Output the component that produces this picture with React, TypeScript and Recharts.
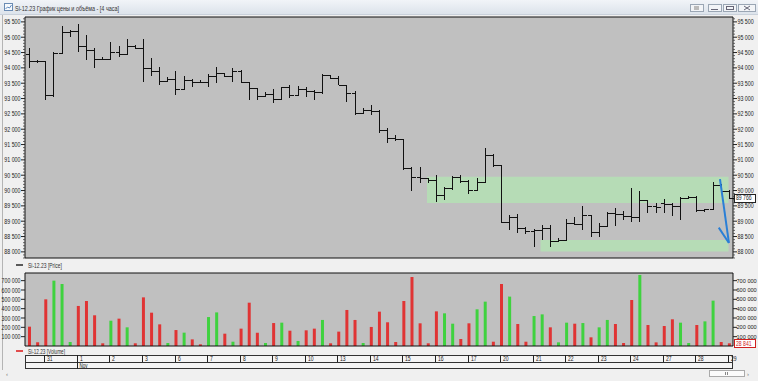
import React from 'react';
import { ComposedChart, Bar, Cell, XAxis, YAxis, CartesianGrid, ReferenceArea, ReferenceLine } from 'recharts';

const FONT = '"Liberation Sans", Arial, sans-serif';

// trading days shown (Oct 30 .. Nov 29), 4-hour bars
const days = ['30', '31', '1', '2', '3', '6', '7', '8', '9', '10', '13', '14', '15', '16', '17', '20', '21', '22', '23', '24', '27', '28', '29'];
const barsPerDay = [2, 4, 4, 4, 4, 4, 4, 4, 4, 4, 4, 4, 4, 4, 4, 4, 4, 4, 4, 4, 4, 4, 1];
const monthStarts: Record<string, string> = { '1': 'Nov' };

const open = [
  94450, 94230, 94210, 93100, 94480, 95180, 95200, 94700, 94590, 94290,
  94280, 94530, 94460, 94700, 94660, 93990, 93910, 93560, 93630, 93300,
  93600, 93550, 93530, 93740, 93830, 93740, 93910, 93550, 93340, 93090,
  93150, 92980, 93370, 93120, 93300, 93230, 93200, 93770, 93660, 93450,
  93170, 92520, 92610, 92600, 91970, 91700, 91680, 90730, 90450, 90400,
  90340, 89850, 90070, 90450, 90300, 90020, 90270, 91160, 90820, 88970,
  89150, 88770, 88690, 88720, 88770, 88360, 88400, 88940, 88920, 89210,
  88660, 88830, 89260, 89230, 89180, 89130, 89680, 89480, 89600, 89560,
  89500, 89770, 89790, 89370, 89390, 90180, 90000,
];
const high = [
  94640, 94260, 94220, 94530, 95370, 95220, 95430, 95070, 94640, 94350,
  94860, 94700, 94940, 94750, 94940, 94310, 94040, 93700, 93900, 93720,
  93630, 93610, 93800, 94040, 93830, 93990, 93940, 93550, 93340, 93220,
  93300, 93390, 93450, 93420, 93370, 93280, 93800, 93770, 93720, 93450,
  93230, 92690, 92790, 92630, 92030, 91820, 91680, 90760, 90780, 90420,
  90510, 90130, 90480, 90510, 90350, 90400, 91380, 91200, 90830, 89210,
  89230, 88800, 88760, 88880, 88880, 88450, 89080, 89150, 89480, 89210,
  88940, 89300, 89430, 89320, 90080, 89970, 89700, 89590, 89720, 89600,
  89790, 89830, 89810, 89400, 90290, 90200, 90010,
];
const low = [
  93990, 94150, 92950, 93060, 94480, 95020, 94530, 94260, 93990, 94260,
  94270, 94370, 94420, 94610, 93550, 93740, 93450, 93550, 93120, 93300,
  93390, 93500, 93370, 93520, 93700, 93550, 93520, 92960, 92960, 93060,
  92850, 92960, 93010, 93120, 93060, 92960, 93150, 93630, 93440, 92900,
  92470, 92520, 92450, 91870, 91550, 91600, 90670, 89970, 90240, 90240,
  89620, 89700, 90030, 90240, 89890, 89970, 90240, 90780, 88930, 88720,
  88610, 88590, 88170, 88390, 88170, 88310, 88390, 88880, 88720, 88500,
  88500, 88830, 88830, 89050, 88990, 88990, 89280, 89280, 89260, 89160,
  89040, 89720, 89300, 89300, 89350, 89920, 89740,
];
const close = [
  94230, 94210, 93100, 94480, 95180, 95200, 94700, 94590, 94290, 94280,
  94530, 94460, 94700, 94660, 93990, 93910, 93560, 93630, 93300, 93600,
  93550, 93530, 93740, 93830, 93740, 93910, 93550, 93340, 93090, 93150,
  92980, 93370, 93120, 93300, 93230, 93200, 93770, 93660, 93450, 93170,
  92520, 92610, 92600, 91970, 91700, 91680, 90730, 90450, 90400, 90340,
  89850, 90070, 90450, 90300, 90020, 90270, 91160, 90820, 88970, 89150,
  88770, 88690, 88720, 88770, 88360, 88400, 88940, 88920, 89210, 88660,
  88830, 89260, 89230, 89180, 89130, 89680, 89480, 89450, 89560, 89500,
  89770, 89790, 89370, 89390, 90180, 90000, 89766,
];
const volume = [
  207000, 40000, 500000, 700000, 664000, 43000, 429000, 482000, 329000, 29000,
  271000, 293000, 200000, 29000, 521000, 357000, 232000, 32000, 171000, 143000,
  71000, 18000, 310000, 360000, 132000, 46000, 186000, 464000, 143000, 32000,
  246000, 250000, 164000, 54000, 168000, 186000, 279000, 29000, 154000, 386000,
  279000, 32000, 204000, 368000, 254000, 43000, 482000, 739000, 243000, 29000,
  371000, 350000, 239000, 75000, 243000, 393000, 475000, 46000, 664000, 529000,
  236000, 46000, 321000, 339000, 200000, 39000, 250000, 239000, 246000, 93000,
  200000, 279000, 236000, 32000, 493000, 761000, 225000, 39000, 214000, 286000,
  250000, 32000, 225000, 264000, 486000, 43000, 28841,
];

const priceMajor = [88000, 88500, 89000, 89500, 90000, 90500, 91000, 91500, 92000, 92500, 93000, 93500, 94000, 94500, 95000, 95500];
const volumeMajor = [100000, 200000, 300000, 400000, 500000, 600000, 700000];

// hand-drawn marks on the original screenshot (bar index / price)
const zones = [
  { from: 48.9, to: 85.95, lo: 89590, hi: 90450 },
  { from: 62.85, to: 85.95, lo: 88010, hi: 88390 },
];
const arrowFrom = { x: 84.9, y: 90370 };
const arrowTo = { x: 86.0, y: 88290 };
const arrowWing = { x: 84.75, y: 88790 };

const barKeys: string[] = [];
days.forEach((d, di) => {
  for (let k = 0; k < barsPerDay[di]; k++) barKeys.push(`${d}|${k}`);
});
const data = barKeys.map((key, i) => ({
  key,
  idx: i,
  open: open[i],
  high: high[i],
  low: low[i],
  close: close[i],
  vol: volume[i],
}));
const dayTicks = days.slice(1).map((d) => `${d}|0`);
const lastClose = close[close.length - 1];
const lastVol = volume[volume.length - 1];

const priceMinor: number[] = [];
for (let p = 87800; p <= 95600; p += 100) priceMinor.push(p);

const fmt = (v: number) => String(Math.round(v)).replace(/\B(?=(\d{3})+(?!\d))/g, ' ');

type TickOpts = { charW?: number; fontSize?: number; gap?: number };

function makeAxisTick(
  side: 'left' | 'right',
  majors: number[],
  opts: TickOpts,
  last?: { value: number; color: string; text: string },
) {
  const { charW, fontSize = 7, gap = 4.5 } = opts;
  return function AxisTick(props: any) {
    const { x, y, payload } = props;
    const v = payload.value;
    const d = side === 'left' ? -1 : 1;
    if (last && v === last.value) {
      const label = fmt(v);
      return (
        <g>
          <rect x={x + 1.5} y={Math.round(y) - 3.5} width={21} height={8} fill="#fff" stroke={last.color} />
          <text x={x + 3} y={y} dy={2.5} fontSize={7} fontFamily={FONT} fill={last.text}
            textLength={label.length * 2.6} lengthAdjust="spacingAndGlyphs">{label}</text>
        </g>
      );
    }
    if (!majors.includes(v)) {
      return <line x1={x} x2={x + d * 2} y1={y} y2={y} stroke="#444" strokeWidth={0.8} />;
    }
    const label = fmt(v);
    const fit = charW ? { textLength: label.length * charW, lengthAdjust: 'spacingAndGlyphs' } : {};
    return (
      <g>
        <line x1={x} x2={x + d * 4} y1={y} y2={y} stroke="#222" />
        <text x={x + d * gap} y={y} dy={fontSize * 0.36} textAnchor={side === 'left' ? 'end' : 'start'} fontSize={fontSize}
          fontFamily={FONT} fill="#222" {...fit}>{label}</text>
      </g>
    );
  };
}

function OhlcShape(props: any) {
  const { x, y, width, height, payload } = props;
  if (!payload) return null;
  const cx = Math.round(x + width / 2) + 0.5;
  const top = Math.min(y, y + height);
  const h = Math.abs(height);
  const span = payload.high - payload.low || 1;
  const toY = (v: number) => top + ((payload.high - v) / span) * h;
  const yo = Math.round(toY(payload.open)) + 0.5;
  const yc = Math.round(toY(payload.close)) + 0.5;
  return (
    <g stroke="#111" strokeWidth={1} shapeRendering="crispEdges">
      <line x1={cx} x2={cx} y1={top} y2={top + h} />
      <line x1={cx - 4} x2={cx} y1={yo} y2={yo} strokeWidth={1.4} />
      <line x1={cx} x2={cx + 4} y1={yc} y2={yc} strokeWidth={1.4} />
    </g>
  );
}

function DayTick(props: any) {
  const { x, y, payload } = props;
  const day = String(payload.value).split('|')[0];
  const sx = Math.round(x - 1) + 0.5;
  const month = monthStarts[day];
  return (
    <g>
      <line x1={sx} x2={sx} y1={y + 9} y2={month ? y + 23 : y + 16} stroke="#222" />
      <text x={sx + 2.5} y={y + 15} fontSize={6.5} fontFamily={FONT} fill="#222"
        textLength={day.length * 2.8} lengthAdjust="spacingAndGlyphs">{day}</text>
      {month && (
        <text x={sx + 2} y={y + 22} fontSize={6.5} fontFamily={FONT} fill="#222"
          textLength={8} lengthAdjust="spacingAndGlyphs">{month}</text>
      )}
    </g>
  );
}

const PriceLeftTick = makeAxisTick('left', priceMajor, { charW: 2.7 });
const PriceRightTick = makeAxisTick('right', priceMajor, { charW: 2.7 }, { value: lastClose, color: '#222', text: '#222' });
const VolLeftTick = makeAxisTick('left', volumeMajor, { charW: 2.7 });
const VolRightTick = makeAxisTick('right', volumeMajor, { fontSize: 5.6, gap: 3.5 }, { value: lastVol, color: '#d02020', text: '#d02020' });

const PLOT_BG = '#c0c0c0';
const GREEN_ZONE = '#b6dcb6';
const UP = '#3fd23f';
const DOWN = '#e03434';

export default function App() {
  return (
    <div style={{ position: 'absolute', left: 0, top: 0, width: 758, height: 381, background: '#f0f0f0', overflow: 'hidden' }}>
      <svg width={758} height={381} style={{ position: 'absolute', left: 0, top: 0 }}>
        <defs>
          <linearGradient id="tb" x1="0" y1="0" x2="0" y2="1">
            <stop offset="0" stopColor="#f1f4f8" />
            <stop offset="1" stopColor="#dce3eb" />
          </linearGradient>
        </defs>
        <rect x={0} y={0} width={758} height={14} fill="url(#tb)" />
        <line x1={0} x2={758} y1={14.5} y2={14.5} stroke="#c9d1db" />
        <rect x={4.5} y={3.5} width={8} height={7} fill="#f6f9fc" stroke="#6a8bb3" />
        <polyline points="5.5,9 7.5,7 9.5,8 11.5,5" fill="none" stroke="#3a6fb0" strokeWidth={0.8} />
        <text x={15} y={10.5} fontSize={7.5} fontFamily={FONT} fill="#333" textLength={104} lengthAdjust="spacingAndGlyphs">
          Si-12.23 График цены и объёма - [4 часа]
        </text>
        {[690, 708, 723, 738].map((bx, i) => (
          <rect key={bx} x={bx + 0.5} y={4.5} width={i === 3 ? 17 : 13} height={7} fill="#f2f4f7" stroke="#9aa6b4" />
        ))}
        <line x1={711} x2={718} y1={9.5} y2={9.5} stroke="#667" />
        <rect x={726.5} y={6.5} width={7} height={3} fill="none" stroke="#667" />
        <path d="M744,6 L750,10 M750,6 L744,10" stroke="#667" />
        <path d="M694,6 h5 v4 h-5 z" fill="#bbb" />
        <line x1={2.5} x2={2.5} y1={15} y2={370} stroke="#b4b4b4" />

        <line x1={16} x2={23} y1={265} y2={265} stroke="#333" strokeWidth={1.6} />
        <text x={28} y={267.5} fontSize={7} fontFamily={FONT} fill="#333" textLength={34} lengthAdjust="spacingAndGlyphs">Si-12.23 [Price]</text>
        <line x1={16} x2={23} y1={351} y2={351} stroke="#dd2222" strokeWidth={1.6} />
        <text x={28} y={353.5} fontSize={7} fontFamily={FONT} fill="#333" textLength={37} lengthAdjust="spacingAndGlyphs">Si-12.23 [Volume]</text>

        <rect x={25.5} y={355.5} width={707} height={13} fill="#f5f5f5" stroke="#333" />
        <line x1={25} x2={733} y1={362.5} y2={362.5} stroke="#333" />

        <text x={6} y={376} fontSize={6} fontFamily={FONT} fill="#777">‹</text>
        <rect x={709.5} y={370.5} width={35} height={6} fill="#fbfbfb" stroke="#aaa" />
        <path d="M725.5,372 v3 M727.5,372 v3" stroke="#888" />
        <text x={747} y={376} fontSize={6} fontFamily={FONT} fill="#777">›</text>
      </svg>

      <div style={{ position: 'absolute', left: 0, top: 0 }}>
        <ComposedChart width={758} height={259} data={data} margin={{ top: 16, right: 0, bottom: 0, left: 0 }} barCategoryGap={0}>
          <CartesianGrid xAxisId="cat" yAxisId="left" fill={PLOT_BG} stroke="none" horizontal={false} vertical={false} />
          <XAxis xAxisId="cat" dataKey="key" type="category" height={1} tick={false} tickLine={false} axisLine={{ stroke: '#111' }} />
          <XAxis xAxisId="num" dataKey="idx" type="number" orientation="top" domain={[-0.5, 86.5]} allowDataOverflow
            height={1} tick={false} tickLine={false} axisLine={{ stroke: '#111' }} />
          <YAxis yAxisId="left" orientation="left" width={25} domain={[87800, 95659]} allowDataOverflow
            ticks={priceMinor} interval={0} tickSize={0} tickMargin={0} tickLine={false} axisLine={{ stroke: '#111' }} tick={<PriceLeftTick />} />
          <YAxis yAxisId="right" orientation="right" width={25} domain={[87800, 95659]} allowDataOverflow
            ticks={[...priceMinor, lastClose]} interval={0} tickSize={0} tickMargin={0} tickLine={false} axisLine={{ stroke: '#111' }} tick={<PriceRightTick />} />
          {zones.map((z, i) => (
            <ReferenceArea key={i} xAxisId="num" yAxisId="left" x1={z.from} x2={z.to} y1={z.lo} y2={z.hi}
              fill={GREEN_ZONE} fillOpacity={1} stroke="none" />
          ))}
          <Bar xAxisId="cat" yAxisId="left" dataKey={(d: any) => [d.low, d.high]} shape={<OhlcShape />} isAnimationActive={false} />
          <ReferenceLine xAxisId="num" yAxisId="left" segment={[arrowFrom, arrowTo]} stroke="#2a7fd6" strokeWidth={2} />
          <ReferenceLine xAxisId="num" yAxisId="left" segment={[arrowWing, arrowTo]} stroke="#2a7fd6" strokeWidth={2} />
        </ComposedChart>
      </div>

      <div style={{ position: 'absolute', left: 0, top: 260 }}>
        <ComposedChart width={758} height={121} data={data} margin={{ top: 12, right: 0, bottom: 0, left: 0 }}>
          <CartesianGrid xAxisId="cat" yAxisId="left" fill={PLOT_BG} stroke="none" horizontal={false} vertical={false} />
          <XAxis xAxisId="cat" dataKey="key" type="category" height={35} ticks={dayTicks} interval={0}
            tickSize={0} tickMargin={0} tickLine={false} axisLine={{ stroke: '#111' }} tick={<DayTick />} />
          <XAxis xAxisId="top" dataKey="key" type="category" orientation="top" height={1} tick={false} tickLine={false} axisLine={{ stroke: '#111' }} />
          <YAxis yAxisId="left" orientation="left" width={25} domain={[0, 782000]} allowDataOverflow
            ticks={volumeMajor} interval={0} tickSize={0} tickMargin={0} tickLine={false} axisLine={{ stroke: '#111' }} tick={<VolLeftTick />} />
          <YAxis yAxisId="right" orientation="right" width={25} domain={[0, 782000]} allowDataOverflow
            ticks={[...volumeMajor, lastVol]} interval={0} tickSize={0} tickMargin={0} tickLine={false} axisLine={{ stroke: '#111' }} tick={<VolRightTick />} />
          <Bar xAxisId="cat" yAxisId="left" dataKey="vol" barSize={3} isAnimationActive={false}>
            {data.map((d, i) => (
              <Cell key={i} fill={d.close >= d.open ? UP : DOWN} />
            ))}
          </Bar>
        </ComposedChart>
      </div>
    </div>
  );
}
